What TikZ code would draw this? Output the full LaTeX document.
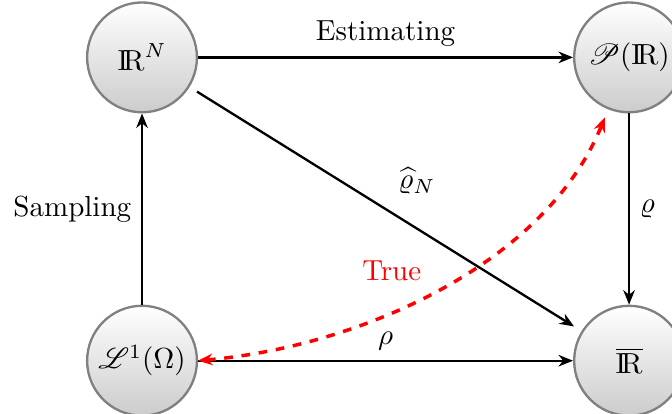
\documentclass[tikz,border=0pt]{standalone}
\usepackage{amsmath}
\usepackage{mathrsfs}
\usetikzlibrary{positioning, arrows.meta}
\definecolor{ringgray}{RGB}{128,128,128}
\definecolor{truered}{RGB}{255,0,0}
\newcommand{\IRset}{\mathrm{I\!R}}

\begin{document}
\begin{tikzpicture}[
    space/.style={circle, draw=ringgray, thick, top color=white, bottom color=gray!40, minimum size=1.33cm, inner sep=1pt},
    arrow/.style={-{Stealth[length=5pt, width=4pt]}, thick},
    truearrow/.style={{Stealth[length=5pt, width=4pt]}-{Stealth[length=5pt, width=4pt]}, dashed, very thick, truered}
]
\useasboundingbox (-1.72,-0.673) rectangle (6.418,4.34);

% === SPACES ===
\node[space] (rn) at (0,3.645) {$\IRset^N$};
\node[space, right=4.54cm of rn] (prob) {$\mathscr{P}(\IRset)$};
\node[space, below=2.315cm of rn] (lone) {$\mathscr{L}^1(\Omega)$};
\node[space, below=2.315cm of prob] (rbar) {$\overline{\IRset}$};

% Maps
\draw[arrow] (rn) -- (prob) node[midway, above] {Estimating};
\draw[arrow] (lone) -- (rn) node[midway, left] {Sampling};
\draw[arrow] (prob) -- (rbar) node[midway, right] {$\varrho$};
\draw[arrow, shorten <=3pt, shorten >=3pt] (rn) -- (rbar) node[pos=0.58, above=8pt] {$\widehat{\varrho}_N$};
\draw[arrow] (lone) -- (rbar) node[midway, above] {$\rho$};

% True risk
\draw[truearrow, shorten >=3pt] (lone.east) to[out=5, in=-112, looseness=0.88] node[pos=0.48, above left=0pt] {True} (prob);

\end{tikzpicture}
\end{document}
